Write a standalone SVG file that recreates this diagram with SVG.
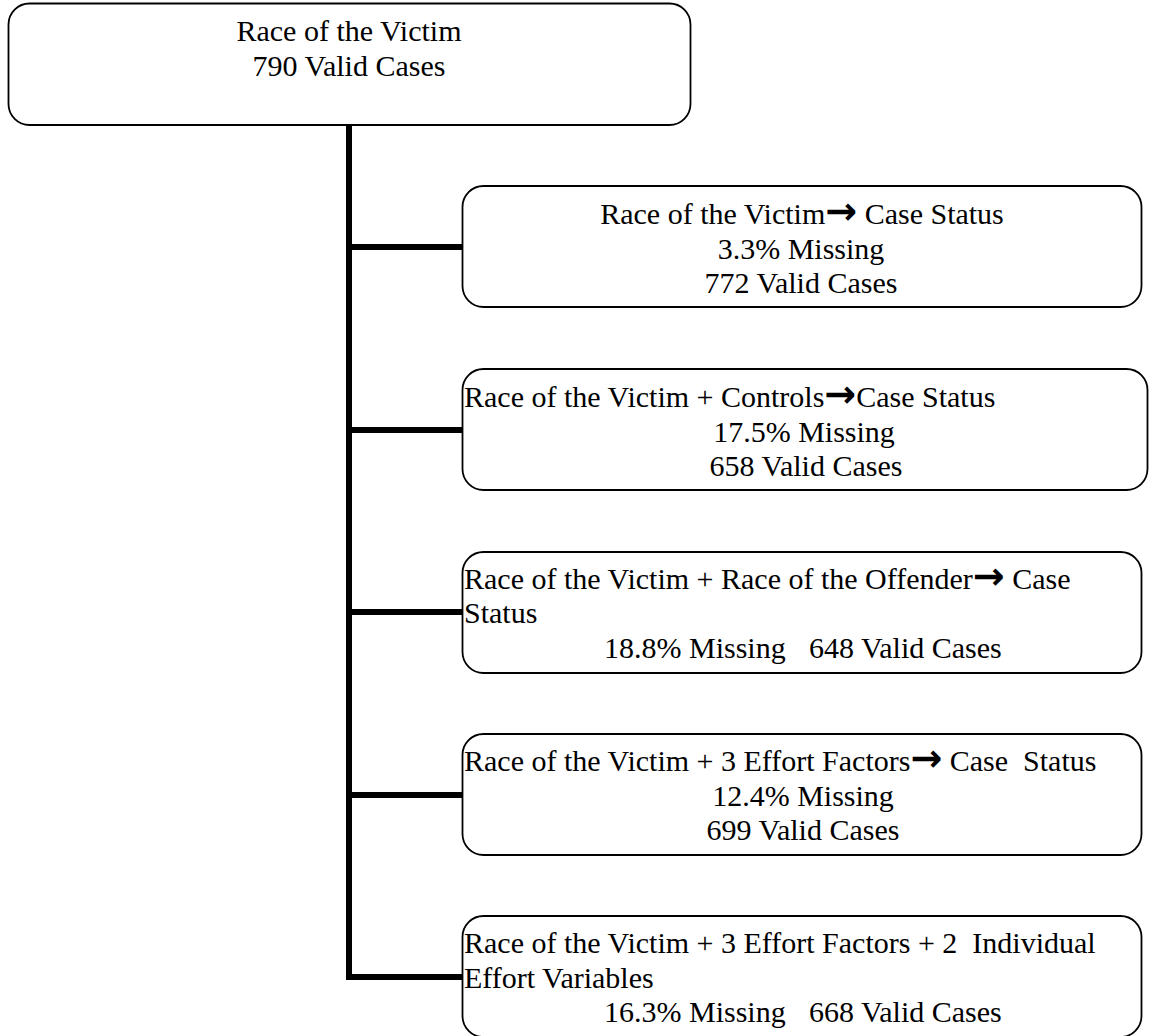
<svg xmlns="http://www.w3.org/2000/svg" width="1149" height="1036" viewBox="0 0 1149 1036">
  <style>
    .box { fill: #ffffff; stroke: #000000; stroke-width: 1.8; }
    .link { fill: none; stroke: #000000; stroke-width: 6; stroke-linecap: butt; stroke-linejoin: miter; }
    text { font-family: "Liberation Serif", "Times New Roman", serif; font-size: 30px; fill: #000000; }
    .c { text-anchor: middle; }
    .arr { font-family: "DejaVu Sans", sans-serif; font-weight: bold; font-size: 38px; }
  </style>
  <rect width="1149" height="1036" fill="#ffffff"/>

  <!-- connectors: trunk from the root box and one branch per model -->
  <g id="connectors">
    <path class="link" d="M349 125 V980"/>
    <path class="link" d="M349 247 H462"/>
    <path class="link" d="M349 430 H462"/>
    <path class="link" d="M349 612 H462"/>
    <path class="link" d="M349 795 H462"/>
    <path class="link" d="M346 977 H462"/>
  </g>

  <g id="root">
    <rect class="box" x="8.5" y="3.5" width="682" height="121.5" rx="21"/>
    <text class="c" x="349" y="41">Race of the Victim</text>
    <text class="c" x="349" y="76">790 Valid Cases</text>
  </g>

  <g id="model1">
    <rect class="box" x="462.5" y="186" width="679" height="121" rx="21"/>
    <text class="c" x="802" y="224">Race of the Victim<tspan class="arr">→</tspan> Case Status</text>
    <text class="c" x="801" y="259">3.3% Missing</text>
    <text class="c" x="801" y="293">772 Valid Cases</text>
  </g>

  <g id="model2">
    <rect class="box" x="462.5" y="369" width="685" height="121" rx="21"/>
    <text x="464" y="407">Race of the Victim + Controls<tspan class="arr">→</tspan>Case Status</text>
    <text class="c" x="804" y="442">17.5% Missing</text>
    <text class="c" x="806" y="476">658 Valid Cases</text>
  </g>

  <g id="model3">
    <rect class="box" x="462.5" y="552" width="679" height="121" rx="21"/>
    <text x="464" y="589">Race of the Victim + Race of the Offender<tspan class="arr">→</tspan> Case</text>
    <text x="464" y="623">Status</text>
    <text y="658"><tspan x="604">18.8% Missing</tspan><tspan x="809">648 Valid Cases</tspan></text>
  </g>

  <g id="model4">
    <rect class="box" x="462.5" y="734" width="679" height="121" rx="21"/>
    <text x="464" y="771" xml:space="preserve">Race of the Victim + 3 Effort Factors<tspan class="arr">→</tspan> Case  Status</text>
    <text class="c" x="803" y="806">12.4% Missing</text>
    <text class="c" x="803" y="840">699 Valid Cases</text>
  </g>

  <g id="model5">
    <rect class="box" x="462.5" y="916" width="679" height="121" rx="21"/>
    <text x="464" y="953" xml:space="preserve">Race of the Victim + 3 Effort Factors + 2  Individual</text>
    <text x="464" y="988">Effort Variables</text>
    <text y="1022"><tspan x="604">16.3% Missing</tspan><tspan x="809">668 Valid Cases</tspan></text>
  </g>
</svg>
